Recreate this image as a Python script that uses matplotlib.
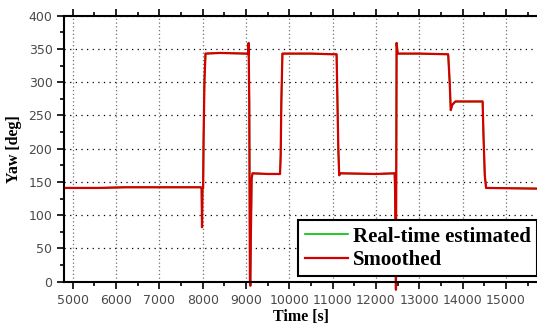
import matplotlib
matplotlib.use("Agg")
import matplotlib.pyplot as plt
from matplotlib.ticker import MultipleLocator

# yaw track, breakpoints of the step sequence
time_s = [4806, 5600, 6200, 7960, 7975, 7985, 7995, 8010, 8020, 8040, 8065, 8400,
          9000, 9050, 9060, 9075, 9090, 9100, 9110, 9130, 9150, 9500, 9785, 9800,
          9815, 9840, 10500, 11000, 11090, 11110, 11130, 11150, 11180, 12000, 12430,
          12440, 12460, 12475, 12500, 13000, 13665, 13700, 13725, 13760, 13830,
          14460, 14480, 14510, 14540, 15715]
yaw_est = [141, 141, 142, 142, 141, 82, 140, 141, 210, 300, 343, 344,
           343, 342, 359, 270, 0, -6, 60, 155, 163, 162, 162, 190,
           270, 343, 343, 342, 342, 270, 200, 160, 163, 162, 163,
           138, -12, 359, 343, 343, 342, 300, 258, 266, 271,
           271, 220, 160, 141, 140]
yaw_smooth = [141, 141, 142, 142, 141, 82, 140, 141, 210, 300, 343, 344,
              343, 342, 359, 270, 0, -6, 60, 155, 163, 162, 162, 190,
              270, 343, 343, 342, 342, 270, 200, 160, 163, 162, 163,
              138, -12, 359, 343, 343, 342, 300, 258, 266, 271,
              271, 220, 160, 141, 140]

fig = plt.figure(figsize=(5.37, 3.25), dpi=100)
ax = fig.add_axes([0.1197, 0.1332, 0.8803, 0.8185])

ax.plot(time_s, yaw_est, color="#00c000", lw=1.2, label="Real-time estimated", clip_on=False)
ax.plot(time_s, yaw_smooth, color="#d40000", lw=1.6, label="Smoothed", clip_on=False)

ax.set_xlim(4806, 15715)
ax.set_ylim(0, 400)
ax.xaxis.set_major_locator(MultipleLocator(1000))
ax.xaxis.set_minor_locator(MultipleLocator(500))
ax.yaxis.set_major_locator(MultipleLocator(50))
ax.yaxis.set_minor_locator(MultipleLocator(25))

for s in ("left", "bottom", "top"):
    ax.spines[s].set_linewidth(1.5)
ax.spines["right"].set_visible(False)
ax.tick_params(which="both", direction="out", top=True, right=False, width=1.2)
ax.tick_params(which="major", length=5, labelsize=9, labelcolor="#4a4a4a")
ax.tick_params(which="minor", length=3)

ax.xaxis.grid(True, color="#707070", linestyle=(0, (1, 2)), lw=0.9)
ax.yaxis.grid(True, color="black", linestyle=(0, (1, 3.5)), lw=0.9)

serif = ["Liberation Serif", "DejaVu Serif"]
ax.set_xlabel("Time [s]", family=serif, fontweight="bold", fontsize=11.5, labelpad=2)
ax.set_ylabel("Yaw [deg]", family=serif, fontweight="bold", fontsize=11.5, labelpad=5)

leg = ax.legend(loc="lower right", bbox_to_anchor=(0.9995, 0.021), borderaxespad=0,
                prop={"family": serif, "weight": "bold", "size": 15},
                fancybox=False, framealpha=1, edgecolor="black",
                handlelength=2.1, handletextpad=0.2, borderpad=0.3, labelspacing=0.15)
leg.get_frame().set_linewidth(1.5)

fig.savefig("out.png", dpi=100)
